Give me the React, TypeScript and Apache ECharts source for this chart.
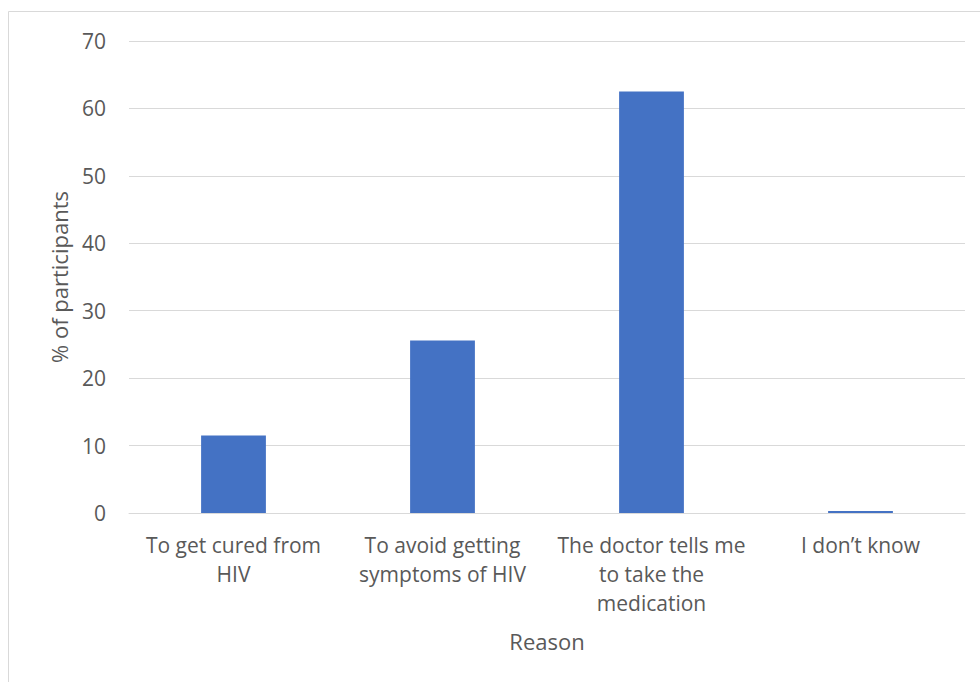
import React, { useEffect, useRef } from "react";
import * as echarts from "echarts";

const categories = [
  "To get cured from\nHIV",
  "To avoid getting\nsymptoms of HIV",
  "The doctor tells me\nto take the\nmedication",
  "I don\u2019t know",
];
const percentages = [11.5, 25.6, 62.5, 0.3];
const yTicks = { min: 0, max: 70, interval: 10 };

const TEXT = "#595959";
const FONT = "'Open Sans', 'Liberation Sans', sans-serif";

export default function App() {
  const ref = useRef<HTMLDivElement>(null);

  useEffect(() => {
    if (!ref.current) return;
    const chart = echarts.init(ref.current, null, { renderer: "svg" });
    chart.setOption({
      animation: false,
      backgroundColor: "#ffffff",
      textStyle: { fontFamily: FONT },
      graphic: [
        {
          type: "rect",
          shape: { x: 8.5, y: 11.5, width: 1000, height: 1000 },
          style: { fill: "none", stroke: "#d9d9d9", lineWidth: 1 },
          silent: true,
        },
      ],
      grid: { left: 129, right: 15, top: 41, bottom: 169 },
      xAxis: {
        type: "category",
        data: categories,
        name: "Reason",
        nameLocation: "middle",
        nameGap: 117,
        nameTextStyle: { color: TEXT, fontSize: 22, fontFamily: FONT },
        axisLine: { lineStyle: { color: "#d9d9d9" } },
        axisTick: { show: false },
        axisLabel: {
          color: TEXT,
          fontSize: 21,
          lineHeight: 29,
          margin: 17,
          interval: 0,
          fontFamily: FONT,
        },
      },
      yAxis: {
        type: "value",
        min: yTicks.min,
        max: yTicks.max,
        interval: yTicks.interval,
        name: "% of participants",
        nameLocation: "middle",
        nameGap: 59,
        nameTextStyle: { color: TEXT, fontSize: 22, fontFamily: FONT },
        axisLine: { show: false },
        axisTick: { show: false },
        axisLabel: { color: TEXT, fontSize: 21, margin: 23, fontFamily: FONT },
        splitLine: { lineStyle: { color: "#d9d9d9", width: 1 } },
      },
      series: [
        {
          type: "bar",
          data: percentages,
          barWidth: "31%",
          itemStyle: { color: "#4472C4" },
        },
      ],
    });
    return () => chart.dispose();
  }, []);

  return (
    <div
      ref={ref}
      style={{ position: "fixed", left: 0, top: 0, width: 980, height: 682 }}
    />
  );
}
